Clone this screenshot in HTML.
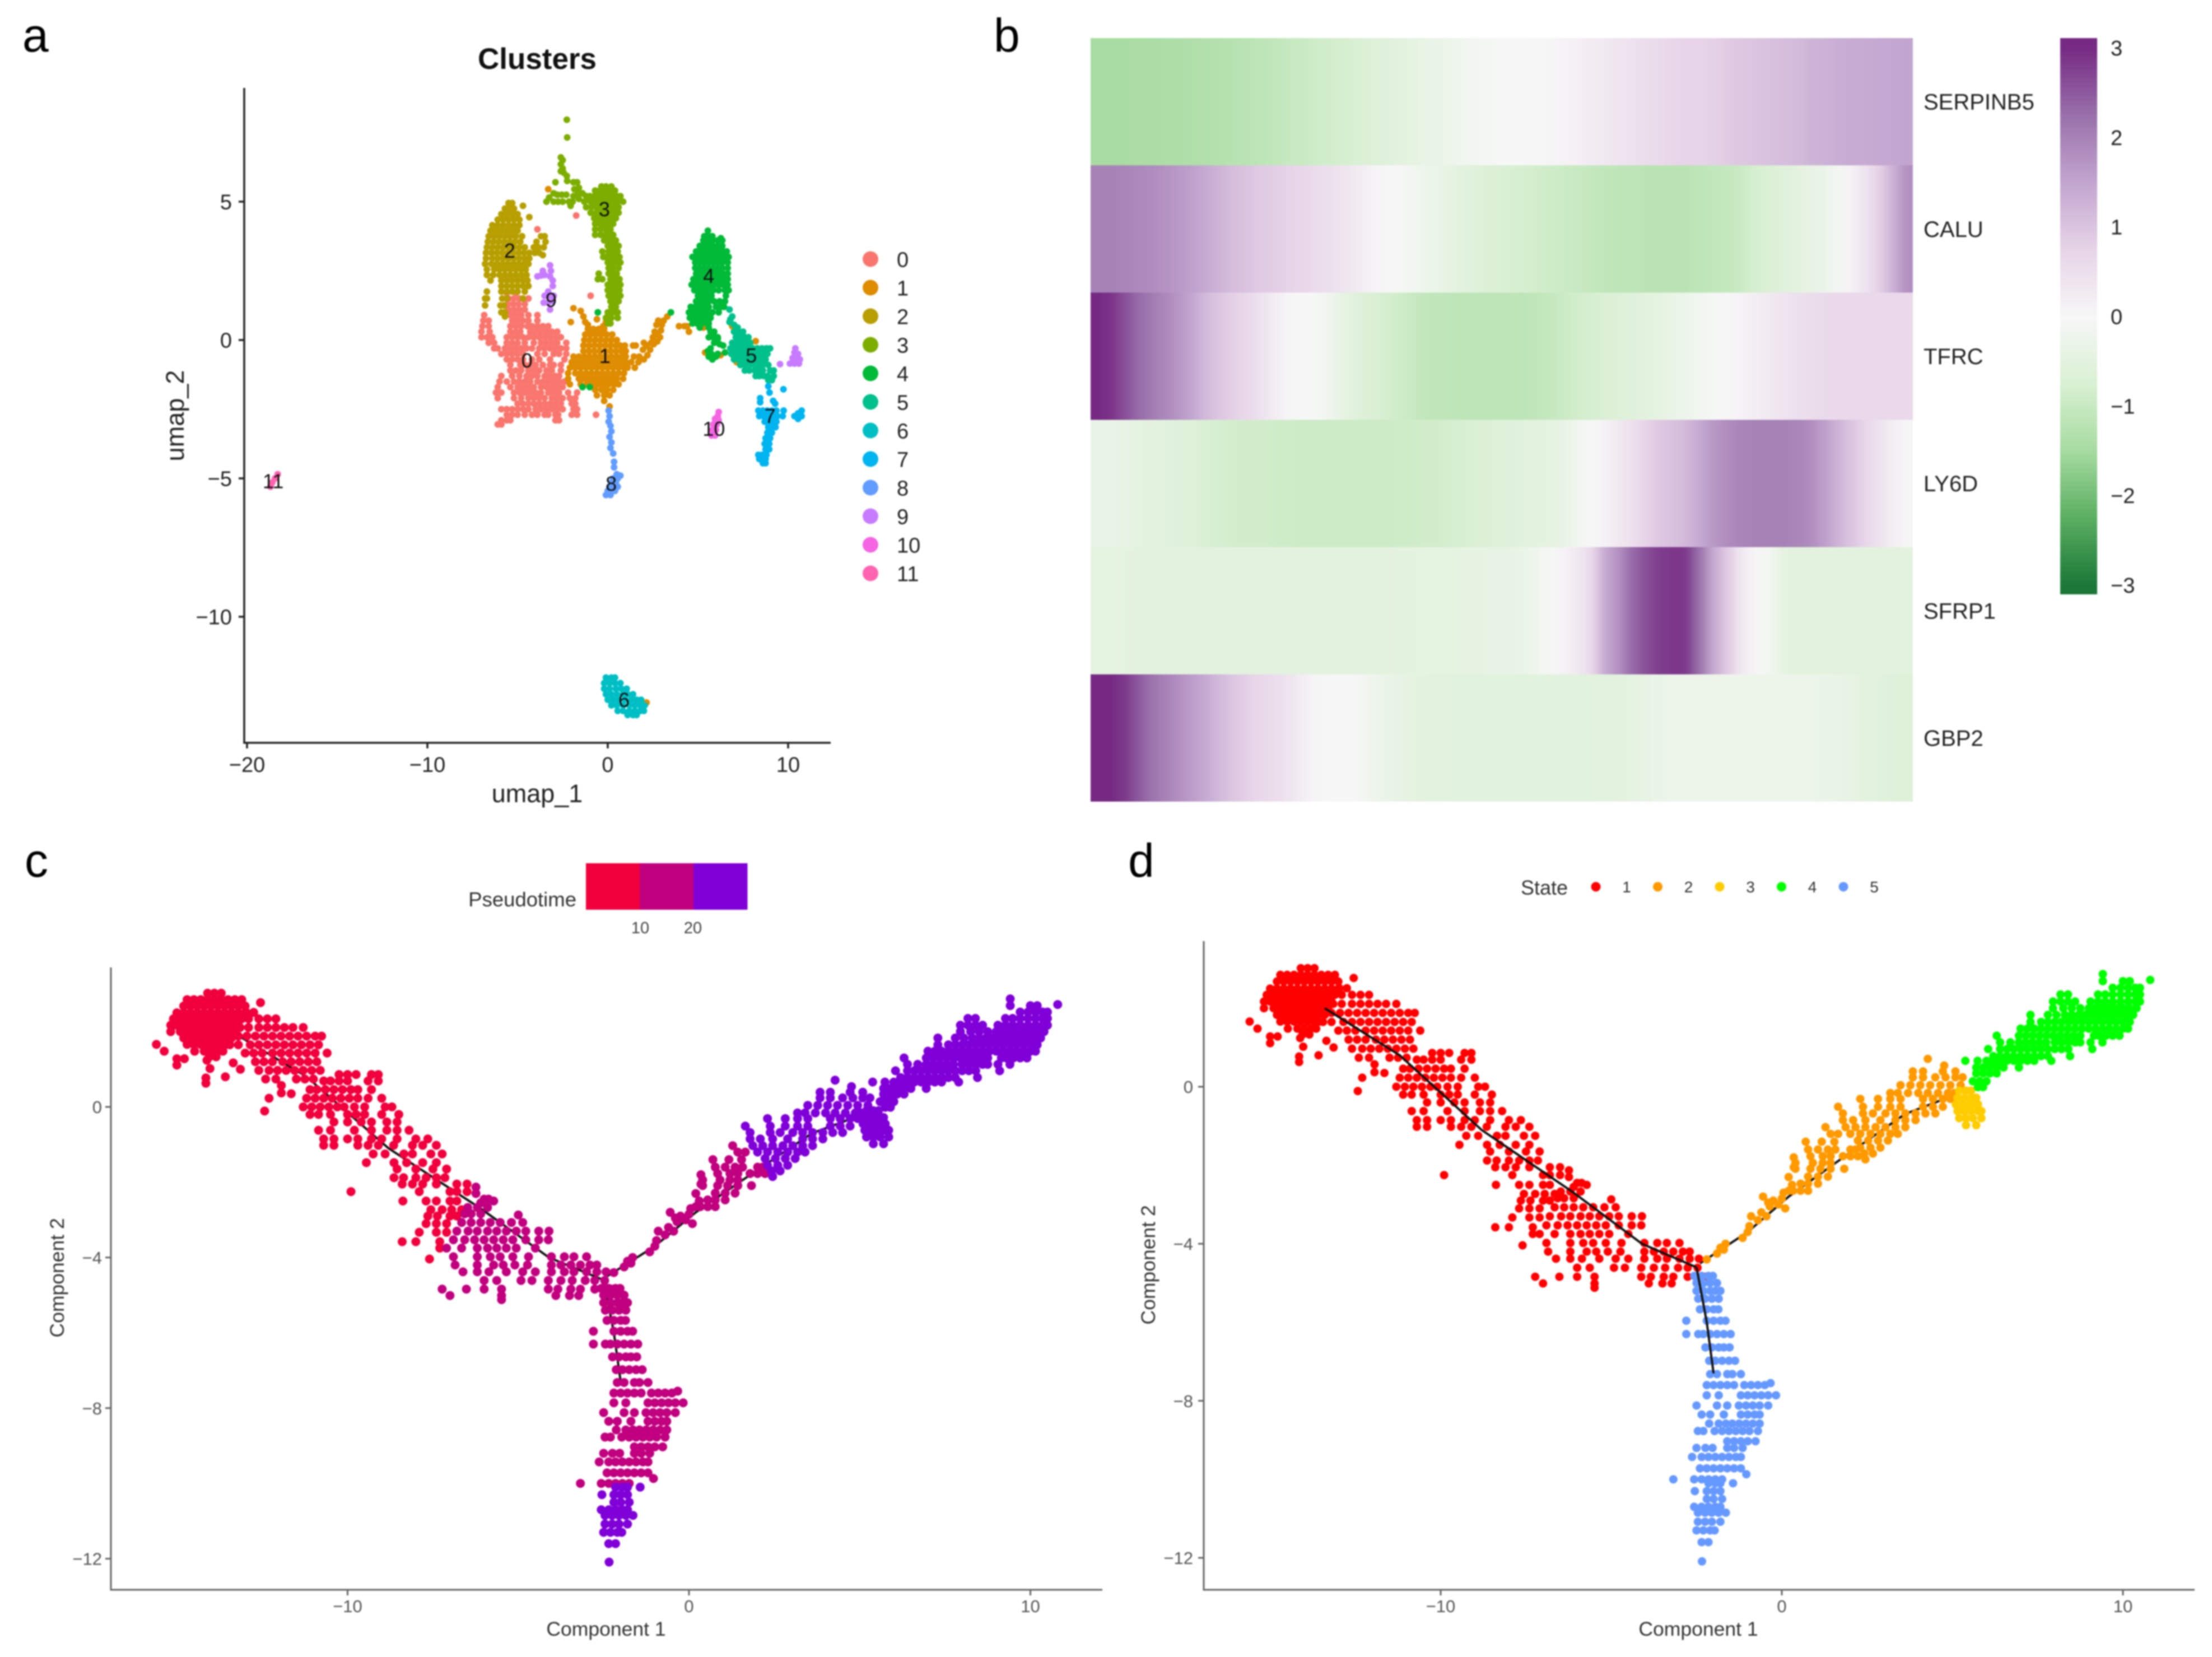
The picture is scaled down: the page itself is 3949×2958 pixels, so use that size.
<!DOCTYPE html>
<html lang="en">
<head>
<meta charset="utf-8">
<title>Clusters, pseudotime heatmap and trajectories</title>
<style>
html,body{margin:0;padding:0;background:#fff;}
#figure{display:block;width:3949px;height:2958px;filter:blur(1.3px);font-family:"Liberation Sans",sans-serif;}
text{font-family:"Liberation Sans",sans-serif;}
</style>
</head>
<body>
<svg id="figure" xmlns="http://www.w3.org/2000/svg" width="3949" height="2958" viewBox="0 0 3949 2958">
  <defs>
    <filter id="row-smooth" filterUnits="userSpaceOnUse" x="1800" y="0" width="1800" height="1500">
      <feGaussianBlur stdDeviation="9 0"/>
    </filter>
    <clipPath id="heat-clip"><rect x="1947" y="68" width="1468" height="1363"/></clipPath>
  </defs>
  <rect x="0" y="0" width="3949" height="2958" fill="#fff"/>
  <text x="40" y="92" font-size="84">a</text>
  <text x="1774" y="92" font-size="84">b</text>
  <text x="44" y="1565" font-size="84">c</text>
  <text x="2014" y="1565" font-size="84">d</text>
  <text x="959" y="123" font-size="53" font-weight="bold" text-anchor="middle" fill="#111">Clusters</text>
  <text x="959" y="1432" font-size="45" text-anchor="middle" fill="#222">umap_1</text>
  <text transform="translate(328,742) rotate(-90)" font-size="45" text-anchor="middle" fill="#222">umap_2</text>
  <text x="1029" y="1618" font-size="36.5" text-anchor="end" fill="#333">Pseudotime</text>
  <text x="1082" y="2920" font-size="35.5" text-anchor="middle" fill="#333">Component 1</text>
  <text transform="translate(114,2281) rotate(-90)" font-size="35.5" text-anchor="middle" fill="#333">Component 2</text>
  <text x="2715" y="1597" font-size="36" fill="#333">State</text>
  <text x="3032" y="2920" font-size="35.5" text-anchor="middle" fill="#333">Component 1</text>
  <text transform="translate(2062,2258) rotate(-90)" font-size="35.5" text-anchor="middle" fill="#333">Component 2</text>
  <g id="heat-clip-group" clip-path="url(#heat-clip)"></g>
  <g id="chart"></g>
</svg>
<script>
/* ---------- panel a: UMAP clusters. Each row is [y, x1, x2, ...] in umap units ---------- */
const clusterColors = ['#F8766D','#DE8C00','#B79F00','#7CAE00','#00BA38','#00C08B','#00BFC4','#00B4F0','#619CFF','#C77CFF','#F564E3','#FF64B0'];
const clusterNames = ['0','1','2','3','4','5','6','7','8','9','10','11'];
const umapXTicks = [-20,-10,0,10];
const umapYTicks = [-10,-5,0,5];
const cluster0 = [[1.7,-5.6,-5.1],[1.5,-5.5,-5.2,-4.9,-4.4],[1.3,-5.55,-5.25,-4.95,-4.6],[1.1,-5.5,-5.2,-4.9,-4.6],[.9,-6.85,-5.4,-5.1,-4.8,-4.4,-3.9],[.7,-6.9,-6.6,-5.3,-5,-4.7,-4.4,-3.9],[.5,-6.95,-6.6,-5.4,-5.1,-4.8,-4.45,-4.2,-3.9,-3.6,-3.3],[.3,-7,-6.55,-5.4,-5.1,-4.85,-4.3,-4,-3.7,-3.4,-3.1,-2.8],[.1,-7,-6.7,-6.4,-5.6,-5.3,-5,-4.7,-4.4,-4.1,-3.8,-3.5,-3.2,-2.9,-2.6],[-.1,-6.6,-6.3,-5.6,-5.3,-5,-4.6,-4.1,-3.7,-3.4,-3.1,-2.8,-2.3],[-.3,-6.3,-6.1,-5.7,-5.4,-5.1,-4.8,-4.5,-4.2,-3.8,-3.5,-3.2,-2.9,-2.6,-2.3],[-.5,-5.9,-5.6,-5.3,-5,-4.7,-3.9,-3.5,-3,-2.7,-2.3],[-.7,-5.6,-5.3,-5,-4.7,-4.2,-3.8,-3.2,-2.4],[-.9,-5.4,-4.85,-4.6,-4.3,-4,-3.6,-3.2,-3,-2.6],[-1.1,-5.4,-5.1,-4.8,-4.4,-4.1,-3.8,-3.4,-3.1,-2.6],[-1.3,-5.9,-5.3,-4.9,-4.5,-4.2,-3.9,-3.5,-3.2,-2.9,-2.7],[-1.5,-6,-5.6,-5.2,-4.9,-4.6,-4.3,-3.9,-3.6,-3.3,-3,-2.7,-2.4],[-1.7,-6.1,-5.4,-5,-4.7,-4.4,-4.1,-3.7,-3.4,-3.1,-2.8,-2.5],[-1.9,-6.2,-5.9,-5.2,-4.9,-4.6,-4.3,-4,-3.7,-3.3,-3,-2.7,-2.2,-1.7],[-2.1,-6.1,-5.2,-4.8,-4.4,-4.1,-3.8,-3.5,-3.1,-2.8,-2.5,-2.1,-1.8],[-2.3,-5,-4.7,-4.4,-4.1,-3.8,-3.5,-3.2,-2.9,-2.6,-2,-1.8],[-2.5,-5.9,-5.6,-5.3,-5,-4.7,-4.4,-4,-3.7,-3.4,-3.1,-2.8,-2.5,-1.9,-1.7],[-2.7,-5.6,-5.3,-5,-4.6,-4.2,-3.9,-3.5,-3.3,-2.9,-2.75,-2,-1.7,-.65],[-2.9,-5.9,-5.6,-5.4,-2.9,-2.7],[-3.05,-6.1,-5.9],[4,-3.9],[4.5,-1.75],[1.6,-.95]];
const cluster1 = [[1.15,-1.9],[1.05,-1.5],[.85,-1.35],[.75,-.6],[.65,-2.05,-1.25,-.1],[.55,-1.1],[.5,-.25],[.4,-1.1,-.8,-.5,-.2],[.2,-1.25,-.95,-.65,-.35,-.05,.25],[0,-1.3,-1,-.7,-.4,-.1,.2,.5],[-.2,-1.35,-1.05,-.75,-.45,-.15,.15,.45,.7,.95,1.4,1.55,2.15],[-.4,-1.35,-1.05,-.75,-.45,-.15,.15,.45,.75,1],[-.6,-1.9,-1.6,-1.3,-1,-.7,-.4,-.1,.2,.5,.8,1,1.45,1.75],[-.8,-2,-1.7,-1.4,-1.1,-.8,-.5,-.2,.1,.4,.7,1,1.3,1.7],[-1,-2.1,-1.8,-1.5,-1.2,-.9,-.6,-.3,0,.3,.6,.9,1.1,1.5],[-1.2,-2.2,-1.8,-1.5,-1.2,-.9,-.6,-.3,0,.3,.6,.9],[-1.4,-2.2,-1.6,-1.3,-1,-.7,-.4,-.1,.2,.5,.85],[-1.6,-2.1,-1.5,-1.15,-.85,-.55,-.25,.05,.35,.6],[-1.8,-.7,-.35,-.05,.3],[-2,-.6,-.2,.1],[-2.2,-.2],[-2.4,.1],[-.35,1.95,2.35],[-.7,2],[-.55,2.2],[-.1,2,2.4],[-.15,2.55],[.1,2.5,2.9],[.3,2.6],[-.05,2.75],[.2,2.75],[.55,2.7,3],[.35,2.95],[.7,2.8,3.1],[.85,3.3],[.5,3.95,4.25,4.4],[.3,4.5],[-.45,5.4],[-.55,6.25],[.45,5.3],[-.6,7],[-.8,7.15],[-.04,8.2],[.5,6.9],[5.45,-3.3],[-13.1,2.15]];
const cluster2 = [[4.95,-5.5,-5.3],[4.85,-4.7],[4.75,-5.7,-5.45,-5.2],[4.55,-5.9,-5.6,-5.3,-5],[4.44,-4.35],[4.35,-6.1,-5.8,-5.5,-5.2,-4.9],[4.15,-6.4,-6.1,-5.8,-5.5,-5.2,-4.9],[3.95,-6.5,-6.2,-5.9,-5.6,-5.3,-5],[3.75,-6.6,-6.3,-6,-5.7,-5.4,-5.1,-4.75,-3.7,-3.5],[3.55,-6.65,-6.35,-6.05,-5.75,-5.45,-5.15,-4.85,-3.95,-3.45],[3.35,-6.7,-6.4,-6.1,-5.8,-5.5,-5.2,-4.9,-4.6,-4.1,-3.85,-3.55],[3.15,-6.75,-6.45,-6.15,-5.85,-5.55,-5.25,-4.95,-4.65,-4.35,-4.05,-3.8],[3.07,-3.6],[2.95,-6.75,-6.4,-6.1,-5.8,-5.5,-5.2,-4.9,-4.6,-4.35],[2.75,-6.8,-6.45,-6.15,-5.85,-5.55,-5.25,-4.95,-4.65,-4.4],[2.55,-6.7,-6.3,-6,-5.7,-5.4,-5.1,-4.8,-4.55],[2.35,-6.7,-6.35,-6,-5.7,-5.4,-5.1,-4.8,-4.5],[2.15,-6.5,-5.9,-5.6,-5.3,-5,-4.7,-4.45],[1.95,-5.9,-5.6,-5.3,-5,-4.7,-4.4],[1.75,-6.7,-5.9,-5.6,-5.3,-5,-4.6],[1.5,-6.7,-6.8,-5.85,-5.6,-4.7],[1.25,-6.8,-5.95,-5.75],[1,-5.9,-5.7],[.85,-5.7]];
const cluster3 = [[7.96,-2.27],[7.32,-2.25],[6.6,-2.6],[6.5,-2.5],[6.35,-2.6],[6.2,-2.5],[6.1,-2.6],[6.05,-2.45],[5.93,-2.27],[5.75,-2.25],[5.7,-2.9,-1.9,-1.7],[5.5,-1.6],[5.45,-1.85],[5.3,-3,-1.65,-1.4],[5.25,-2.8,-2.55,-2.3],[5.2,-1.9,-1.2],[5.15,-3.25],[5.1,-1.6,-1],[5,-3,-2.75,-2.5,-3.4,-2.15,-1.95],[4.85,-2.06],[5.55,-.35,-.1,.2],[5.4,-.7,-.45,-.2,.05,.3,.4],[5.2,-1,-.75,-.5,-.25,0,.25,.5,.7],[5,-1.3,-.95,-.7,-.45,-.2,.05,.3,.55,.85],[4.8,-1.2,-.9,-.6,-.35,-.1,.15,.4,.6],[4.6,-.95,-.65,-.4,-.15,.1,.35,.6],[4.4,-.75,-.5,-.25,0,.2,.45],[4.2,-.7,-.45,-.2,.05,.3],[4,-.7,-.4,-.1,.15],[3.8,-.7,-.4,-.15,.1,.3],[3.6,-.2,.05,.3,.45],[3.4,0,.2,.45,.6],[3.2,-.3,.05,.3,.55],[3,-.25,-.1,.15,.4,.65],[2.8,0,.25,.5,.7],[2.6,.05,.3,.6],[2.4,-.5,.05,.25,.5],[2.2,-.55,-.3,.15,.4,.65],[2,0,.25,.5,.7],[1.8,0,.2,.45,.65],[1.6,.05,.3,.55,.7],[1.4,.15,.4,.6],[1.2,.2,.45],[1,-.55,0,.25,.45,.55],[.8,-.1,.05,.2,.55],[.6,0,.15]];
const cluster4 = [[3.95,5.55],[3.75,5.35,5.6,5.8],[3.68,6.27],[3.6,5.3,5.55,5.8,6.1,6.35],[3.4,5.1,5.35,5.6,5.85,6.1,6.35],[3.2,4.9,5.15,5.4,5.65,5.9,6.15,6.4,6.6],[3,4.7,4.95,5.2,5.45,5.7,5.95,6.2,6.45,6.7],[2.8,4.85,5.1,5.35,5.6,5.85,6.1,6.35,6.65],[2.6,4.85,5.1,5.35,5.6,5.85,6.1,6.35,6.65],[2.4,4.9,5.15,5.4,5.65,5.9,6.15,6.4,6.65],[2.2,4.75,5,5.25,5.5,5.75,6,6.25,6.5,6.65],[2,4.65,4.9,5.15,5.4,5.65,5.9,6.15,6.4,6.65],[1.8,4.8,5.05,5.3,5.55,5.85,6.15,6.5,6.7],[1.6,5,5.25,5.5,5.75,6.55],[1.4,4.9,5.15,5.4,5.6,5.9,6.2,6.5],[1.2,4.6,4.85,5.1,5.35,5.6,6,6.3,6.45],[1,4.5,4.75,5,5.25,5.5,5.8,6.15,3.5],[.8,4.55,4.8,5.05,5.3,5.55,5.7],[.6,4.7,4.95,5.2,5.5,5.6],[.45,5.1,5.6],[.3,5.7,5.9],[.1,5.6,5.85,6.1],[.05,6.1],[-.1,5.9],[-.15,6.2],[-.3,5.7],[-.4,5.55],[-.5,5.75,6.1],[-.6,5.6,6],[-.7,5.8],[-1.7,-1,-1.4],[-.45,6.5],[-.2,6.4],[1,-.55]];
const cluster5 = [[1.1,6.75],[.85,6.9],[.75,6.8],[.65,6.75],[.55,7],[.45,7.2],[.3,7,7.25,7.5],[.1,7.1,7.35,7.6,7.8],[-.1,6.9,7.15,7.4,7.65,7.9],[-.3,6.8,7.05,7.3,7.55,7.8,8.05,8.3,8.55,8.8,9],[-.5,6.85,7.1,7.35,7.6,7.85,8.1,8.35,8.6,8.85],[-.7,7,7.25,7.5,7.75,8,8.25,8.5,8.75],[-.9,7.35,7.6,7.85,8.1,8.35,8.6,8.9],[-1.1,7.6,7.85,8.15,8.4,8.6,9,9.2],[-1.3,8.2,8.4,8.65,8.85,9.2],[-1.45,8.9,9.1]];
const cluster6 = [[-12.2,-.1,.2,.4],[-12.4,-.2,.1,.4,.7],[-12.6,-.2,.1,.45,.75,1.05],[-12.8,-.1,.2,.5,.85,1.1,1.4],[-13,0,.3,.6,.95,1.3,1.6,1.85],[-13.2,.2,.5,.85,1.2,1.5,1.8,2.05],[-13.4,.55,.85,1.2,1.5,1.8,2],[-13.55,1.1,1.4,1.6]];
const cluster7 = [[-1.67,8.9],[-1.78,9.74],[-1.9,8.97],[-2.1,8.45],[-2.2,9.17],[-2.25,8.45],[-2.3,9.28],[-2.55,8.35,8.6,8.85,9.1,9.35,9.75],[-2.75,8.4,8.65,8.9,9.15,9.4,9.7,10.35,10.75],[-2.65,10.55],[-2.55,10.75],[-2.85,10.55],[-2.95,8.7,8.95,9.2,9.35],[-3.15,8.9,9.15,9.3],[-3.35,8.85,9.1],[-3.55,8.75,9],[-3.75,8.7,8.95],[-3.95,8.75,8.95],[-4.15,8.35,8.55,8.8],[-4.3,8.4,8.6,8.75],[-4.45,8.6,8.75]];
const cluster8 = [[-2.55,.05],[-2.75,.1],[-2.95,.05],[-3.1,.15],[-3.3,.2],[-3.5,.1],[-3.7,.2],[-3.9,.15],[-4.1,.3],[-4.4,.35],[-4.6,.35],[-4.85,.5],[-4.9,.7],[-5,.3,.55],[-5.15,.2,.45],[-5.3,.1,.35,.55],[-5.45,0,.2,.4],[-5.6,-.1,.15]];
const cluster9 = [[2.7,-3.2],[2.5,-3.15,-3.6],[2.35,-3.5],[2.33,-3.7],[2.3,-3.2,-3.9],[2.15,-3.05],[1.95,-3.05],[1.75,-3.3],[1.6,-3.5,-3.2,-3],[1.35,-3.55,-3.3],[1.4,-3.05],[1.1,-3.2],[-.3,10.4],[-.45,10.35],[-.5,10.55],[-.65,10.25],[-.7,10.5,10.65],[-.85,10.1,10.35,10.6],[-.87,9.55]];
const cluster10 = [[-2.6,6.15],[-2.75,6.1],[-2.85,5.95],[-2.9,6.15],[-3.05,5.85,6.05],[-3.25,5.8,6],[-3.45,5.75,5.95]];
const cluster11 = [[-4.85,-18.3],[-5,-18.45],[-5.15,-18.6],[-5.3,-18.7]];
const clusterRows = [cluster0,cluster1,cluster2,cluster3,cluster4,cluster5,cluster6,cluster7,cluster8,cluster9,cluster10,cluster11];
const clusterLabelX = [-4.48,-.16,-5.44,-.19,5.6,7.96,.9,9,.19,-3.14,5.88,-18.55];
const clusterLabelY = [-.73,-.57,3.24,4.74,2.33,-.55,-13,-2.73,-5.18,1.46,-3.2,-5.09];

/* ---------- panel b: heatmap values, one array per gene ---------- */
const heatGenes = ['SERPINB5','CALU','TFRC','LY6D','SFRP1','GBP2'];
const heatColorTicks = [3,2,1,0,-1,-2,-3];
const heatPalette = ['#1B7837','#5AAE61','#A6DBA0','#D9F0D3','#F7F7F7','#E7D4E8','#C2A5CF','#9970AB','#762A83'];
const serpinb5 = [-1.45,-1.45,-1.45,-1.42,-1.42,-1.4,-1.38,-1.35,-1.32,-1.3,-1.25,-1.2,-1.15,-1.1,-1,-1,-.9,-.85,-.8,-.72,-.65,-.6,-.5,-.45,-.35,-.3,-.22,-.15,-.1,-.05,0,0,.02,.05,.1,.15,.25,.3,.4,.45,.55,.6,.7,.75,.75,.8,.9,.95,1,1.05,1.1,1.15,1.25,1.3,1.35,1.4,1.4,1.45,1.45,1.5];
const calu = [2,2,1.95,1.9,1.85,1.75,1.65,1.55,1.4,1.25,1.1,1,.9,.85,.75,.7,.55,.5,.4,.25,.1,.03,-.02,-.15,-.25,-.35,-.45,-.55,-.65,-.7,-.75,-.8,-.85,-.9,-.95,-1,-1.05,-1.1,-1.15,-1.15,-1.2,-1.2,-1.2,-1.2,-1.15,-1.1,-1.05,-.95,-.8,-.7,-.6,-.5,-.4,-.3,-.1,.1,.4,.8,1.3,1.8];
const tfrc = [3,2.9,2.6,2.3,2.1,1.9,1.7,1.45,1.15,.95,.8,.65,.45,.2,.05,0,-.05,-.2,-.45,-.6,-.7,-.8,-.9,-1,-1.1,-1.1,-1.15,-1.15,-1.15,-1.15,-1.15,-1.15,-1.1,-1.05,-.95,-.85,-.8,-.7,-.65,-.6,-.5,-.45,-.35,-.25,-.15,-.05,.03,.1,.2,.3,.4,.5,.55,.6,.65,.65,.65,.65,.65,.65];
const ly6d = [-.35,-.35,-.4,-.45,-.5,-.55,-.6,-.65,-.75,-.8,-.85,-.85,-.85,-.9,-.9,-.95,-.95,-.95,-.95,-.95,-.95,-.95,-.9,-.9,-.85,-.85,-.8,-.75,-.7,-.65,-.6,-.55,-.5,-.45,-.4,-.15,0,.1,.3,.5,.75,.95,1.05,1.2,1.45,1.7,1.85,1.95,2,2,2,1.95,1.85,1.6,1.3,1,.7,.45,.2,.05];
const sfrp1 = [-.45,-.45,-.48,-.5,-.5,-.5,-.5,-.5,-.5,-.5,-.5,-.5,-.5,-.5,-.5,-.5,-.5,-.5,-.5,-.5,-.5,-.5,-.48,-.48,-.45,-.45,-.45,-.42,-.42,-.4,-.4,-.35,-.2,-.05,.1,.3,.6,1.4,1.8,2.3,2.6,2.8,2.85,2.85,2.2,1.4,.9,.3,.05,-.1,-.45,-.5,-.5,-.5,-.5,-.5,-.5,-.5,-.5,-.5];
const gbp2 = [3,3,2.85,2.5,2.2,2,1.8,1.6,1.4,1.15,.95,.8,.65,.55,.4,.2,.05,0,0,-.05,-.2,-.3,-.4,-.45,-.5,-.5,-.55,-.55,-.55,-.55,-.55,-.55,-.55,-.55,-.55,-.55,-.55,-.5,-.5,-.45,-.4,-.3,-.25,-.25,-.25,-.25,-.25,-.25,-.25,-.25,-.25,-.25,-.25,-.3,-.35,-.4,-.5,-.55,-.6,-.65];
const heatRows = [serpinb5,calu,tfrc,ly6d,sfrp1,gbp2];

/* ---------- panels c and d: trajectory cells. Each row is [component2, component1 values...] ---------- */
const compXTicks = [-10,0,10];
const compYTicks = [0,-4,-8,-12];
const pseudotimeColors = ['#F0003C','#C0007E','#8000D8'];
const pseudotimeTicks = ['10','20'];
const stateNames = ['1','2','3','4','5'];
const stateColors = ['#FF0000','#FF9900','#FFCC00','#00FF00','#6699FF'];
const treeA = [-13.4,2,-11.2,.8,-8.8,-1.1,-6.1,-2.7,-4.1,-4,-2.5,-4.6];
const treeB = [-2.4,-4.5,-1,-3.7,.2,-2.8,1.8,-1.8,3.6,-.7,4.8,-.3];
const treeC = [-2.5,-4.6,-2.2,-6,-2,-7.3];
const cellsAEarly = [[3.02,-14.1,-13.9,-13.7],[2.85,-14.7,-14.5,-14.3,-14.1,-13.9,-13.7,-13.5,-13.3,-13.1],[2.68,-14.8,-14.6,-14.4,-14.2,-14,-13.8,-13.6,-13.4,-13.2,-13],[2.5,-15,-14.8,-14.6,-14.4,-14.2,-14,-13.8,-13.6,-13.4,-13.2,-13],[2.34,-15.1,-14.9,-14.7,-14.5,-14.3,-14.1,-13.9,-13.7,-13.5,-13.3,-13.1],[2.17,-15.18,-15,-14.8,-14.6,-14.4,-14.2,-14,-13.8,-13.6,-13.4,-13.2],[2,-15.18,-14.9,-14.7,-14.5,-14.3,-14.1,-13.9,-13.7,-13.5,-13.3],[1.83,-14.8,-14.6,-14.4,-14.2,-14,-13.8,-13.6,-13.4],[1.66,-15.6,-14.7,-14.5,-14.3,-14.1,-13.9,-13.7,-13.55],[1.48,-15.37,-14.48,-14.2,-14,-13.8,-13.65],[1.33,-14.05,-13.85],[1.28,-15,-14.78],[1.24,-14.12],[1.17,-13.35],[1.11,-15],[1.02,-14.03],[1,-13.14],[.8,-13.58],[.77,-14.15],[.63,-14.15],
[2.77,-12.55],[2.51,-12.97,-12.75],[2.34,-12.9,-12.6,-12.35,-12.1],[2.11,-13.15,-12.9,-12.6,-12.35,-12.1,-11.85,-11.6,-11.3],[1.88,-13.2,-12.95,-12.7,-12.45,-12.2,-11.95,-11.7,-11.45,-11.2,-10.95,-10.76],[1.65,-13.45,-13.2,-12.85,-12.6,-12.35,-12.1,-11.85,-11.6,-11.35,-11.1,-10.85],[1.43,-13,-12.75,-12.5,-12.2,-11.95,-11.7,-11.45,-11.2,-10.95,-10.6],[1.2,-12.7,-12.45,-12.2,-11.9,-11.65,-11.4,-11.15,-10.9],[.97,-12.6,-12.3,-12.05,-11.8,-11.55,-11.3,-11.05,-10.8],[.74,-12.4,-12.1,-11.5,-11.25,-11],[.57,-11.94],[.37,-11.94],[.35,-11.65],[.23,-12.3],[-.11,-12.43],
[.86,-10.25,-10,-9.75,-9.3,-9.1],[.69,-10.7,-10.5,-10.25,-10,-9.4,-9.1],[.46,-11.1,-10.9,-10.65,-10.4,-10.15,-9.9,-9.7,-9.3],[.23,-11.2,-10.95,-10.7,-10.45,-10.2,-9.95,-9.7,-9.4,-9],[0,-11.3,-11.05,-10.8,-10.55,-10.3,-10.1,-9.8,-9.5,-8.9,-8.7],[-.2,-11.1,-10.85,-10.5,-10,-9.75,-9.5,-9,-8.5],[-.4,-10.4,-10,-9.6,-9.3,-8.85,-8.55],[-.62,-10.85,-10.5,-9.8,-9.3,-8.85,-8.55,-8.2],[-.85,-10.7,-10.4,-10,-9.7,-9.3,-9,-8.55,-8,-7.65],[-1.02,-10.7,-10.4,-9.7,-9.4,-9.1,-8.65,-8.1,-7.8,-7.4],[-1.25,-9.25,-8.9,-8.35,-8.1,-7.56,-7.23],[-1.48,-9.45,-8.64,-8.27,-7.8,-7.4],[-1.65,-8.55,-8,-7.5,-7.1],[-1.88,-8.64,-8.36,-8,-7.7,-7.4,-7.15],[-2.05,-8.4,-8.1,-7.8,-7.4,-6.8,-6.5],[-2.25,-9.9,-7.9,-7,-6.8,-6.5],[-2.5,-8.38,-7.7,-7.4,-7,-6.8],[-2.73,-7.56,-7.23,-6.95,-6.66],[-2.9,-7.65,-7.37,-7,-6.8],[-3.1,-7.7,-7.4,-7.1],[-3.33,-7.9,-7.4,-7.1],[-3.58,-8.4,-8,-7.3],[-3.75,-7.3],[-4.04,-7.6]];
const cellsAMid = [[-2.13,-6.24],[-2.3,-6.24],[-2.45,-5.87,-6],[-2.5,-5.72],[-2.55,-6.1],[-2.67,-6.48,-6.2,-5.9],[-2.84,-6.57,-6.38,-6.1],[-2.87,-5],[-3.07,-6.66,-6.38,-6.1,-5.82,-5.53,-5.2,-4.87],[-3.3,-6.8,-6.47,-6.2,-5.9,-5.63,-5.35,-5.06,-4.78,-4.4,-4.1],[-3.53,-6.9,-6.57,-6.28,-6,-5.72,-5.44,-5.16,-4.78,-4.4,-4.12],[-3.75,-7.1,-6.66,-6.2,-5.9,-5.63,-5.35,-5.06,-4.5],[-3.98,-6.9,-6.2,-5.82,-5.53,-5.16,-4.7,-4.03,-3.65,-3.37,-3],[-4.2,-6.85,-6.2,-5.72,-5.44,-5.1,-4.73,-4.03,-3.75,-3.46,-3.18,-2.9,-2.7],[-4.38,-6.62,-6.2,-5.86,-5.35,-4.87,-4.5,-4.03,-3.65,-3.37,-3,-2.7,-2.43],[-4.61,-6,-5.63,-4.92,-4.6,-4.12,-3.75,-3.42,-3.04,-2.76,-2.47],[-4.84,-7.23,-6.52,-6,-5.49,-4.12,-3.84,-3.46,-3.18,-2.76,-2.47,-2.24],[-5.01,-7,-5.49,-3.9,-3.5,-3.23],[-5.12,-5.49]];
const cellsBMid = [[-4.4,-2.2],[-4.25,-1.9],[-4.1,-1.8],[-4.15,-1.7],[-4,-1.65],[-3.85,-1.15],[-3.7,-1],[-3.55,-.95],[-3.4,-.7],[-3.3,-.9,-.45],[-3.2,-.6],[-3.1,.1],[-3.05,-.35],[-3,-.1],[-2.95,-.4],[-2.9,-.25],[-2.85,0],[-2.8,-.55],[-2.7,.05],[-2.65,.2,.33,.55,.77],[-2.5,.3],[-2.47,.55,.77,1.06],[-2.3,.2],[-2.29,.77,1.06,1.35],[-2.09,.4,.84,1.13,1.43,1.83],[-2.05,.35],[-1.94,.4,.91,1.2,1.43],[-1.8,.35],[-1.77,.84,1.2,1.43,1.79,2.01,2.23],[-1.6,.77,1.06,1.35,1.57,2.01,2.16],[-1.4,.7,1.17,1.54],[-1.2,1.43,1.65],[-1.03,1.28]];
const cellsBLate = [[.71,4.28],[.54,4.76],[.39,3.84,4.14,4.72,5.09],[.24,3.84,4.14,4.5,4.8,5.09,5.3],[.04,3.48,3.77,4.06,4.35,4.65,4.94,5.24],[-.16,3.18,3.4,3.7,4,4.28,4.58,4.87,5.05],[-.31,2.3,2.82,3.18,3.48,4.14,4.43,4.72,4.94],[-.51,1.65,2.38,2.82,3.18,3.48,4.14,4.43,4.72],[-.68,1.79,2.38,2.67,3.04,3.33,3.62,3.92,4.21,4.5],[-.85,1.79,2.09,2.45,2.89,3.33,3.62,3.92],[-1.03,1.87,2.16,2.45,2.75,3.04,3.33,3.62],[-1.2,2.01,2.3,2.6,2.89,3.18,3.4],[-1.37,2.23,2.53,2.82,3.11],[-1.55,2.3,2.6,2.89],[-1.7,2.42,2.67],[-1.85,2.45]];
const cellsState3 = [[-.1,5.2,5.4,5.55],[-.28,5.15,5.35,5.55,5.7],[-.45,5.1,5.3,5.5,5.7,5.75],[-.62,5.15,5.35,5.55,5.75,5.85],[-.8,5.2,5.4,5.6,5.85],[-.98,5.4,5.7]];
const cellsState4 = [[2.87,9.41],[2.72,10.8],[2.69,9.41,10,10.2],[2.52,9.7,9.93,10.15,10.36,10.5],[2.35,8.17,8.39,9.27,9.48,9.7,9.93,10.15,10.36,10.5],[2.17,7.95,8.17,8.39,8.6,9.05,9.27,9.48,9.7,9.93,10.15,10.36,10.5],[2,7.95,8.25,8.5,8.75,9,9.2,9.4,9.6,9.8,10,10.2,10.4],[1.83,7.29,7.8,8.05,8.3,8.5,8.7,8.9,9.1,9.3,9.5,9.7,9.9,10.1,10.3],[1.65,7.29,7.6,7.8,8,8.2,8.4,8.6,8.8,9,9.2,9.4,9.6,9.8,10,10.2],[1.48,7,7.2,7.4,7.6,7.8,8,8.2,8.4,8.6,8.8,9,9.2,9.4,9.6,9.8,10,10.15],[1.3,6.3,6.95,7.15,7.35,7.55,7.75,7.95,8.15,8.35,8.55,8.75,9.15,9.3,9.5,9.7,9.9],[1.13,6.4,6.7,6.95,7.15,7.35,7.55,7.75,8,8.2,8.4,8.6,8.75,9.05,9.4],[.96,6.05,6.4,6.6,6.8,7,7.2,7.4,7.6,7.8,8,8.2,8.4,9.1],[.78,6.2,6.4,6.6,6.8,7,7.2,7.4,7.6,7.8,8.45],[.66,5.38,5.74,6,6.2,6.4,6.6,6.8,7,7.2,7.4,7.9],[.49,5.7,5.9,6.1,6.3,6.5,6.95],[.34,5.7,5.9,6.1,6.3],[.14,5.6,5.8,6],[-.01,5.75,5.9]];
const cellsCMid = [[-4.82,-2.57,-2.35,-2.15,-2.02],[-5,-2.5,-2.3,-2.1,-1.9],[-5.2,-2.5,-2.3,-2.1,-1.95,-1.8],[-5.4,-2.45,-2.25,-2.05,-1.85],[-5.67,-2.4,-2.2,-2,-1.86],[-5.96,-2.8,-2.2,-2,-1.8,-1.65],[-6.3,-2.8,-2.45,-2.3,-2.1,-1.9,-1.7,-1.5],[-6.64,-2.24,-2.05,-1.85,-1.7,-1.53],[-6.98,-2.13,-1.95,-1.75,-1.55,-1.37],[-7.32,-2.1,-1.9,-1.6,-1.45,-1.2],[-7.55,-.33],[-7.6,-2.2,-2,-1.8,-1.6,-1.4,-1.1,-.9,-.7,-.5],[-7.86,-2.2,-1.85,-1.2,-1,-.8,-.6,-.4,-.17],[-8.12,-2.5,-1.9,-1.6,-1.26,-1.05,-.85,-.65,-.4],[-8.35,-2.35,-2.1,-1.7,-1.2,-1,-.8,-.65],[-8.58,-2.13,-1.85,-1.64,-1.45,-1.25,-1.05,-.85,-.65],[-8.77,-2.46,-2.3,-1.97,-1.75,-1.55,-1.35,-1.15,-.95,-.7],[-9.03,-1.6,-1.4,-1.2,-1,-.77],[-9.2,-2.5,-2.24,-2.03,-1.6,-1.4,-1.15],[-9.43,-2.63,-2.35,-2.15,-1.95,-1.75,-1.55,-1.35,-1.2],[-9.72,-2.4,-2.2,-2,-1.8,-1.6,-1.4,-1.2],[-9.87,-1.04],[-10,-3.18,-2.57,-2.35,-2.15,-1.95,-1.75]];
const cellsCLate = [[-10.1,-2.15,-1.95,-1.8,-1.43],[-10.3,-2.55,-2.2,-2,-1.8],[-10.5,-2.2,-2,-1.75],[-10.7,-2.57,-2.35,-2.15,-1.95,-1.8],[-10.85,-2.46,-2.25,-2.05,-1.85,-1.64],[-11.08,-2.46,-2.25,-2.05,-1.8],[-11.3,-2.5,-2.3,-2.1,-1.97],[-11.6,-2.35,-2.15],[-12.09,-2.34]];
const cellGroups = [cellsAEarly,cellsAMid,cellsBMid,cellsBLate,cellsState3,cellsState4,cellsCMid,cellsCLate];
const groupPseudotimeBin = [0,1,1,2,2,2,1,2];
const groupState = [0,0,1,1,2,3,4,4];

/* ---------- helpers ---------- */
const NS = 'http://www.w3.org/2000/svg';
const chart = document.getElementById('chart');
const heatClip = document.getElementById('heat-clip-group');
function makeIn(parent, tag, attrs, text){
  const el = document.createElementNS(NS, tag);
  for(const k in attrs){ el.setAttribute(k, attrs[k]); }
  if(text !== undefined){ el.textContent = text; }
  parent.appendChild(el);
  return el;
}
function make(tag, attrs, text){ return makeIn(chart, tag, attrs, text); }
function linear(d0,d1,r0,r1){ return function(v){ return r0 + (v-d0)*(r1-r0)/(d1-d0); }; }
function tickText(v){ return String(v).replace('-','\u2212'); }
function drawAxes(prefix, x, y, box, xTicks, yTicks, color, width, fontSize, textColor, xLabelY, yLabelX){
  const xl = make('line',{x1:box.left-width/2,x2:box.right,y1:box.bottom,y2:box.bottom,stroke:color,'stroke-width':width});
  
  
  const yl = make('line',{x1:box.left,x2:box.left,y1:box.top,y2:box.bottom,stroke:color,'stroke-width':width});
  
  
  xTicks.forEach(function(v){
    const t = make('line',{x1:x(v),x2:x(v),y1:box.bottom,y2:box.bottom+10,stroke:color,'stroke-width':width});
    
    
    const l = make('text',{x:x(v),y:xLabelY,'font-size':fontSize,'text-anchor':'middle',fill:textColor},tickText(v));
    
    
  });
  yTicks.forEach(function(v){
    const t = make('line',{x1:box.left-10,x2:box.left,y1:y(v),y2:y(v),stroke:color,'stroke-width':width});
    
    
    const l = make('text',{x:yLabelX,y:y(v)+fontSize*0.36,'font-size':fontSize,'text-anchor':'end',fill:textColor},tickText(v));
    
    
  });
}

/* ---------- panel a ---------- */
const ax = linear(0,10,1085,1407);
const ay = linear(0,5,607,360);
drawAxes('umap',ax,ay,{left:436,right:1483,top:157,bottom:1326},umapXTicks,umapYTicks,'#222',3.5,38,'#222',1378,414);
clusterRows.forEach(function(rows,c){
  rows.forEach(function(row){
    for(let i=1;i<row.length;i++){
      const p = make('circle',{cx:ax(row[i]),cy:ay(row[0]),r:6,fill:clusterColors[c]});
      
      
    }
  });
});
clusterNames.forEach(function(name,c){
  const l = make('text',{x:ax(clusterLabelX[c]),y:ay(clusterLabelY[c])+13,'font-size':36,'text-anchor':'middle',fill:'#111'},name);
  
  
  const ly = 462.5 + c*51;
  const d = make('circle',{cx:1554,cy:ly,r:14,fill:clusterColors[c]});
  
  
  const t = make('text',{x:1601,y:ly+14,'font-size':38,fill:'#222'},name);
  
  
});

/* ---------- panel b ---------- */
function heatColor(v){
  const c = Math.max(-3,Math.min(3,v));
  const pos = (c+3)/6*(heatPalette.length-1);
  const i = Math.min(heatPalette.length-2,Math.floor(pos));
  const f = pos-i;
  const a = heatPalette[i], b = heatPalette[i+1];
  let out = 'rgb(';
  for(let k=0;k<3;k++){
    const ca = parseInt(a.substr(1+k*2,2),16), cb = parseInt(b.substr(1+k*2,2),16);
    out += Math.round(ca+(cb-ca)*f) + (k<2?',':')');
  }
  return out;
}
const heatLeft = 1947, heatRight = 3415, heatTop = 68, heatBottom = 1431;
const rowH = (heatBottom-heatTop)/heatRows.length;
heatRows.forEach(function(vals,r){
  const cellW = (heatRight-heatLeft)/vals.length;
  const rowGroup = makeIn(heatClip,'g',{filter:'url(#row-smooth)'});
  
  
  vals.forEach(function(v,i){
    const pad = i===0 ? 50 : 0;
    const padR = i===vals.length-1 ? 50 : 1;
    const cell = makeIn(rowGroup,'rect',{x:heatLeft+i*cellW-pad,y:heatTop+r*rowH,width:cellW+pad+padR,height:rowH+(r<heatRows.length-1?1:0),fill:heatColor(v)});
    
    
  });
  const gl = make('text',{x:3434,y:heatTop+(r+0.5)*rowH+14,'font-size':40,fill:'#222'},heatGenes[r]);
  
  
});
const cbY = linear(3,-3,86,1045);
for(let py=68;py<1061;py+=8){
  const v = 3-(py+4-86)/(1045-86)*6;
  const s = make('rect',{x:3678,y:py,width:66,height:Math.min(9,1061-py),fill:heatColor(v)});
  
  
}
heatColorTicks.forEach(function(v){
  const t = make('text',{x:3768,y:cbY(v)+13,'font-size':38,fill:'#222'},tickText(v));
  
  
});

/* ---------- panels c and d ---------- */
const cx = linear(0,10,1230,1839.5);
const cy = linear(0,-12,1976,2782.5);
const dx = linear(0,10,3181,3790);
const dy = linear(0,-12,1940,2781);
function treePath(arr,x,y){
  let s='';
  for(let i=0;i<arr.length;i+=2){ s += (i?'L':'M') + x(arr[i]) + ' ' + y(arr[i+1]); }
  return s;
}
function drawTree(prefix,x,y,branches){
  branches.forEach(function(arr){
    const p = make('path',{d:treePath(arr,x,y),fill:'none',stroke:'#111','stroke-width':4});
    
    
  });
}
function drawCells(prefix,x,y,r,colorOf){
  cellGroups.forEach(function(rows,g){
    rows.forEach(function(row){
      for(let i=1;i<row.length;i++){
        const p = make('circle',{cx:x(row[i]),cy:y(row[0]),r:r,fill:colorOf(g)});
        
        
      }
    });
  });
}
drawAxes('pseudotime',cx,cy,{left:198,right:1968,top:1727,bottom:2838},compXTicks,compYTicks,'#666',3,31,'#555',2878,182);
drawTree('pseudotime',cx,cy,[treeA,treeB,treeC]);
drawCells('pseudotime',cx,cy,8,function(g){ return pseudotimeColors[groupPseudotimeBin[g]]; });

pseudotimeColors.forEach(function(col,i){
  const s = make('rect',{x:1046+i*96,y:1541,width:96.5,height:83,fill:col});
  
  
});
pseudotimeTicks.forEach(function(txt,i){
  const t = make('text',{x:1143+i*94,y:1666,'font-size':29,'text-anchor':'middle',fill:'#444'},txt);
  
  
});

drawAxes('state',dx,dy,{left:2149,right:3918,top:1680,bottom:2838},compXTicks,compYTicks,'#666',3,31,'#555',2878,2130);
drawTree('state',dx,dy,[treeB]);
drawCells('state',dx,dy,7.5,function(g){ return stateColors[groupState[g]]; });
drawTree('state',dx,dy,[treeA,treeC]);
stateNames.forEach(function(name,i){
  const gx = 2849 + i*110.5;
  const d = make('circle',{cx:gx,cy:1583,r:8.5,fill:stateColors[i]});
  
  
  const t = make('text',{x:gx+55,y:1593,'font-size':28,'text-anchor':'middle',fill:'#333'},name);
  
  
});
</script>
</body>
</html>
